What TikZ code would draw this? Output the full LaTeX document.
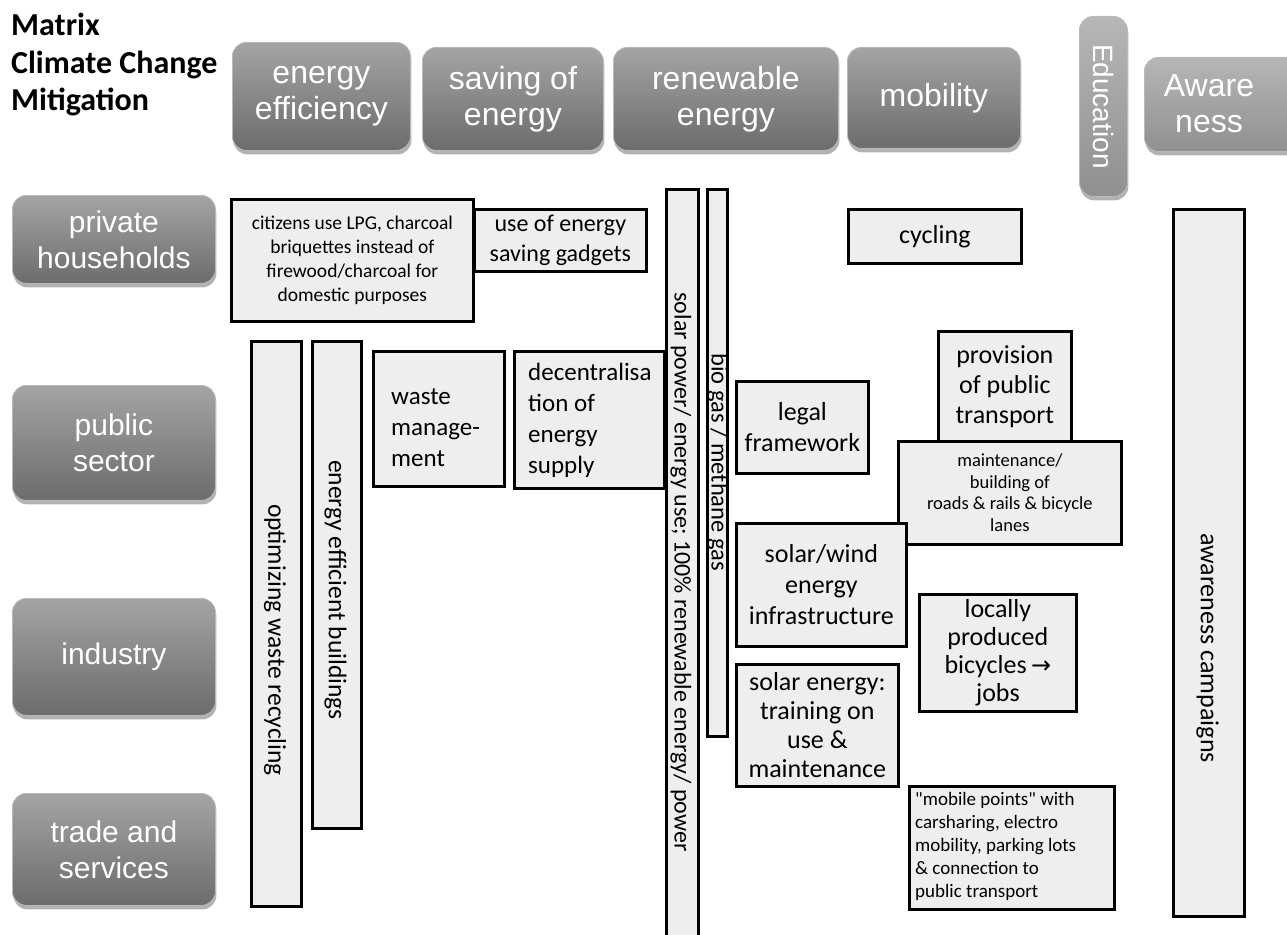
\documentclass[tikz,border=0pt]{standalone}
\usepackage{fontspec}
\setmainfont{Carlito}
\newfontfamily\hdrfont{Liberation Sans}
\newfontfamily\arrowfont{DejaVu Sans}
% Carlito loaded without the TeX input mapping, for straight double quotes
\font\quotefnt="Carlito" at 19pt
\usetikzlibrary{shadows}

\definecolor{cellgray}{HTML}{EEEEEE}
\definecolor{hdrtop}{HTML}{A4A4A4}
\definecolor{hdrbot}{HTML}{6C6C6C}
\definecolor{lighttop}{HTML}{B6B6B6}
\definecolor{lightbot}{HTML}{909090}

\tikzset{
  hdr/.style={rounded corners=14pt, top color=hdrtop, bottom color=hdrbot,
    draw=gray!55, line width=0.8pt, text=white, align=center, inner sep=0pt,
    anchor=north west, font=\hdrfont\fontsize{32}{36}\selectfont,
    drop shadow={shadow xshift=1pt, shadow yshift=-4pt, opacity=0.3, fill=black}},
  hdrlight/.style={hdr, top color=lighttop, bottom color=lightbot},
  rowhdr/.style={hdr, font=\hdrfont\fontsize{30}{36}\selectfont},
  cell/.style={draw=black, line width=2.7pt, fill=cellgray, inner sep=0pt,
    align=center, anchor=north west},
  celltext/.style={inner sep=0pt, align=center},
}

\begin{document}
\begin{tikzpicture}[x=1pt, y=-1pt]
\useasboundingbox (0,0) rectangle (1287,934);
\clip (0,0) rectangle (1287,934);
\fill[white] (0,0) rectangle (1287,934);

% title
\node[anchor=north west, align=left, inner sep=0pt,
  font=\bfseries\fontsize{32}{37.5}\selectfont] (title) at (11,13)
  {Matrix\\Climate Change\\Mitigation};

% column headings
\node[hdr, minimum width=178, minimum height=108] (effic) at (232,42) {energy\\efficiency};
\node[hdr, minimum width=181, minimum height=103] (saving) at (422,47) {saving of\\energy};
\node[hdr, minimum width=225, minimum height=103] (renew) at (613,47) {renewable\\energy};
\node[hdr, minimum width=173, minimum height=101] (mobil) at (847,47) {mobility};
\node[hdrlight, minimum width=48, minimum height=180,
  font=\hdrfont\fontsize{28}{34}\selectfont] (educ) at (1079,16) {\rotatebox{-90}{Education}};
\node[hdrlight, minimum width=165, minimum height=94] (aware) at (1144,57) {};
\node[celltext, text=white, font=\hdrfont\fontsize{32}{36}\selectfont] (awareT)
  at (1209,104) {Aware\\ness};

% row headings
\node[rowhdr, minimum width=203, minimum height=88] (priv) at (12,195) {private\\households};
\node[rowhdr, minimum width=203, minimum height=115] (pub) at (12,385) {public\\sector};
\node[rowhdr, minimum width=203, minimum height=117] (ind) at (12,598) {industry};
\node[rowhdr, minimum width=203, minimum height=112] (trade) at (12,793) {trade and\\services};

% private households
\node[cell, minimum width=242, minimum height=122,
  font=\fontsize{19.5}{24}\selectfont] (lpg) at (230,198)
  {citizens use LPG, charcoal\\briquettes instead of\\firewood/charcoal for\\domestic purposes};
\node[cell, minimum width=172, minimum height=62,
  font=\fontsize{24}{30}\selectfont] (gadgets) at (473,208)
  {use of energy\\saving gadgets};
\node[cell, minimum width=173, minimum height=54,
  font=\fontsize{26}{31}\selectfont] (cycling) at (847,208) {cycling};

% long vertical bars
\node[cell, minimum width=50, minimum height=565] (recyc) at (250,340) {};
\node[celltext, font=\fontsize{25.5}{30}\selectfont] (recycT) at (275,640)
  {\rotatebox{-90}{optimizing waste recycling}};
\node[cell, minimum width=49, minimum height=487] (build) at (311,340) {};
\node[celltext, font=\fontsize{25.5}{30}\selectfont] (buildT) at (335.5,590)
  {\rotatebox{-90}{energy efficient buildings}};
\node[cell, minimum width=32, minimum height=760] (solar) at (665,188) {};
\node[celltext, font=\fontsize{24}{30}\selectfont] (solarT) at (681,572)
  {\rotatebox{-90}{solar power/ energy use; 100\% renewable energy/ power}};
\node[cell, minimum width=20, minimum height=547] (biogas) at (706,188) {};
\node[celltext, font=\fontsize{24.5}{30}\selectfont] (biogasT) at (718,462)
  {\rotatebox{-90}{bio gas / methane gas}};
\node[cell, minimum width=71, minimum height=707] (campaign) at (1172,208) {};
\node[celltext, font=\fontsize{26}{30}\selectfont] (campaignT) at (1207.5,648)
  {\rotatebox{-90}{awareness campaigns}};

% public sector
\node[cell, minimum width=131, minimum height=135] (waste) at (372,350) {};
\node[celltext, anchor=west, align=left, font=\fontsize{25}{31}\selectfont] (wasteT)
  at (391,428) {waste\\manage-\\ment};
\node[cell, minimum width=150, minimum height=137] (decent) at (513,350) {};
\node[celltext, anchor=west, align=left, font=\fontsize{25}{31}\selectfont] (decentT)
  at (528,420) {decentralisa\\tion of\\energy\\supply};
\node[cell, minimum width=132, minimum height=92,
  font=\fontsize{26}{31}\selectfont] (legal) at (735,380) {legal\\framework};
\node[cell, minimum width=133, minimum height=110,
  font=\fontsize{26}{30}\selectfont] (ptrans) at (937,330) {provision\\of public\\transport};
\node[cell, minimum width=223, minimum height=103,
  font=\fontsize{18.5}{21.5}\selectfont] (roads) at (897,440)
  {maintenance/\\building of\\roads \& rails \& bicycle\\lanes};

% industry
\node[cell, minimum width=170, minimum height=123,
  font=\fontsize{26}{31}\selectfont] (windinf) at (735,522)
  {solar/wind\\energy\\infrastructure};
\node[cell, minimum width=157, minimum height=117,
  font=\fontsize{26}{28}\selectfont] (bikes) at (918,593)
  {locally\\produced\\bicycles\,{\arrowfont\fontsize{24}{28}\selectfont →}\\jobs};
\node[cell, minimum width=162, minimum height=122,
  font=\fontsize{26}{29}\selectfont] (training) at (735,663)
  {solar energy:\\training on\\use \&\\maintenance};

% trade and services
\node[cell, minimum width=205, minimum height=123] (mobpts) at (908,785) {};
\node[celltext, anchor=west, align=left, font=\fontsize{19}{23}\selectfont] (mobptsT)
  at (915,846) {{\quotefnt"}mobile points{\quotefnt"} with\\carsharing, electro\\mobility, parking lots\\\& connection to\\public transport};
\end{tikzpicture}
\end{document}
